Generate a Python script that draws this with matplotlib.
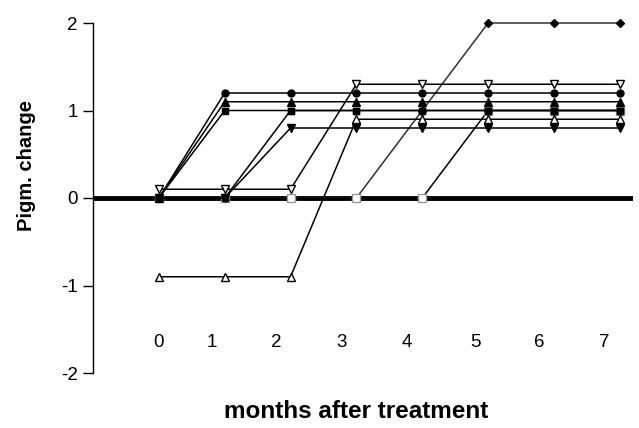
import matplotlib
matplotlib.use('Agg')
import matplotlib.pyplot as plt

plt.rcParams['font.family'] = ['Liberation Sans', 'DejaVu Sans']

# months after treatment (data positions)
months = [0, 1, 2, 3, 4, 5, 6, 7]

# pigmentation change per patient
circle_filled = [0, 1.2, 1.2, 1.2, 1.2, 1.2, 1.2, 1.2]
tri_up_filled = [0, 1.1, 1.1, 1.1, 1.1, 1.1, 1.1, 1.1]
square_filled_a = [0, 1.0, 1.0, 1.0, 1.0, 1.0, 1.0, 1.0]
square_filled_b = [0, 0, 1.0, 1.0, 1.0, 1.0, 1.0, 1.0]
tri_down_filled = [0, 0, 0.8, 0.8, 0.8, 0.8, 0.8, 0.8]
tri_down_open = [0.1, 0.1, 0.1, 1.3, 1.3, 1.3, 1.3, 1.3]
tri_up_open = [-0.9, -0.9, -0.9, 0.9, 0.9, 0.9, 0.9, 0.9]
diamond_filled = [0, 0, 0, 0, 1.0, 2.0, 2.0, 2.0]
square_open = [0, 0, 0, 0, 0, 1.0, 1.0, 1.0]

# x tick labels (placed as in the original, slightly left of the points)
month_labels = ['0', '1', '2', '3', '4', '5', '6', '7']
label_x = [0.0, 0.80, 1.78, 2.78, 3.77, 4.81, 5.78, 6.77]
label_y = -1.65

fig = plt.figure(figsize=(6.39, 4.28), dpi=100)
ax = fig.add_axes([93 / 639, 1 - 373 / 428, 540 / 639, 350 / 428])

ax.axhline(0, color='black', lw=3.5, zorder=1.5)

series = [
    (diamond_filled, 'D', 'black', 'black', '#333333', 4.5),
    (square_open, 's', 'white', '#999999', 'black', 5.5),
    (tri_up_open, '^', 'white', 'black', 'black', 6),
    (tri_down_open, 'v', 'white', 'black', 'black', 6),
    (tri_down_filled, 'v', 'black', 'black', 'black', 5.5),
    (square_filled_b, 's', 'black', 'black', 'black', 5),
    (square_filled_a, 's', 'black', 'black', 'black', 5),
    (tri_up_filled, '^', 'black', 'black', 'black', 5.5),
    (circle_filled, 'o', 'black', 'black', 'black', 5),
]
for vals, mk, fc, ec, lc, ms in series:
    ax.plot(months, vals, color=lc, lw=1.1, marker=mk, markersize=ms,
            markerfacecolor=fc, markeredgecolor=ec, markeredgewidth=1.0,
            zorder=3, clip_on=False)

ax.set_xlim(-1, 7.2)
ax.set_ylim(-2, 2)
ax.set_yticks([-2, -1, 0, 1, 2])
ax.set_yticklabels(['-2', '-1', '0', '1', '2'])
ax.tick_params(axis='y', direction='out', length=7, width=1, labelsize=13.5, pad=4)
ax.set_xticks([])

for sp in ['top', 'right', 'bottom']:
    ax.spines[sp].set_visible(False)
ax.spines['left'].set_linewidth(1)

for lab, xx in zip(month_labels, label_x):
    ax.text(xx, label_y, lab, ha='center', va='center', fontsize=13.5)

fig.text(356 / 639, 1 - 412 / 428, 'months after treatment', ha='center',
         va='center', fontsize=17.5, fontweight='bold')
fig.text(27 / 639, 1 - 165 / 428, 'Pigm. change', ha='center', va='center',
         rotation=90, fontsize=14.5, fontweight='bold')

fig.savefig('out.png', dpi=100)
